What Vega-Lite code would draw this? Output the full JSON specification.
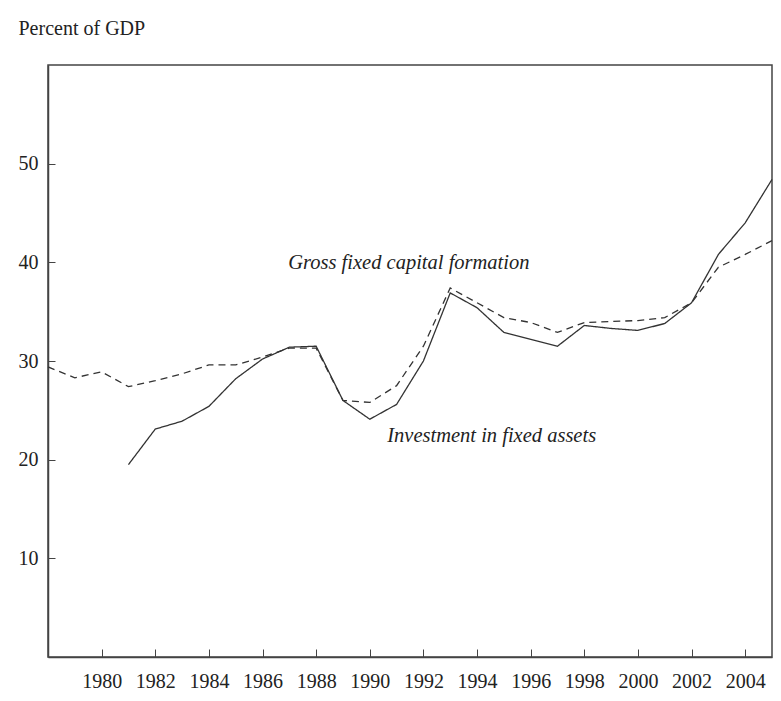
{
  "$schema": "https://vega.github.io/schema/vega-lite/v6.json",
  "width": 724,
  "height": 592,
  "autosize": "none",
  "padding": {"left": 48, "top": 65, "right": 9, "bottom": 44},
  "background": "white",
  "config": {
    "font": "Liberation Serif",
    "view": {"stroke": "#444", "strokeWidth": 1.5},
    "axis": {"grid": false, "domainColor": "#444", "domainWidth": 1.5, "tickColor": "#444", "tickWidth": 1, "labelColor": "#222", "labelFont": "Liberation Serif", "labelFontSize": 20}
  },
  "datasets": {
    "series": [
      {"year": 1978, "value": 29.4, "series": "Gross fixed capital formation"},
      {"year": 1979, "value": 28.3, "series": "Gross fixed capital formation"},
      {"year": 1980, "value": 28.9, "series": "Gross fixed capital formation"},
      {"year": 1981, "value": 27.4, "series": "Gross fixed capital formation"},
      {"year": 1982, "value": 28.0, "series": "Gross fixed capital formation"},
      {"year": 1983, "value": 28.7, "series": "Gross fixed capital formation"},
      {"year": 1984, "value": 29.6, "series": "Gross fixed capital formation"},
      {"year": 1985, "value": 29.6, "series": "Gross fixed capital formation"},
      {"year": 1986, "value": 30.4, "series": "Gross fixed capital formation"},
      {"year": 1987, "value": 31.3, "series": "Gross fixed capital formation"},
      {"year": 1988, "value": 31.3, "series": "Gross fixed capital formation"},
      {"year": 1989, "value": 26.0, "series": "Gross fixed capital formation"},
      {"year": 1990, "value": 25.8, "series": "Gross fixed capital formation"},
      {"year": 1991, "value": 27.5, "series": "Gross fixed capital formation"},
      {"year": 1992, "value": 31.5, "series": "Gross fixed capital formation"},
      {"year": 1993, "value": 37.4, "series": "Gross fixed capital formation"},
      {"year": 1994, "value": 35.9, "series": "Gross fixed capital formation"},
      {"year": 1995, "value": 34.4, "series": "Gross fixed capital formation"},
      {"year": 1996, "value": 33.9, "series": "Gross fixed capital formation"},
      {"year": 1997, "value": 32.9, "series": "Gross fixed capital formation"},
      {"year": 1998, "value": 33.9, "series": "Gross fixed capital formation"},
      {"year": 1999, "value": 34.0, "series": "Gross fixed capital formation"},
      {"year": 2000, "value": 34.1, "series": "Gross fixed capital formation"},
      {"year": 2001, "value": 34.4, "series": "Gross fixed capital formation"},
      {"year": 2002, "value": 35.9, "series": "Gross fixed capital formation"},
      {"year": 2003, "value": 39.5, "series": "Gross fixed capital formation"},
      {"year": 2004, "value": 40.8, "series": "Gross fixed capital formation"},
      {"year": 2005, "value": 42.2, "series": "Gross fixed capital formation"},
      {"year": 1981, "value": 19.5, "series": "Investment in fixed assets"},
      {"year": 1982, "value": 23.1, "series": "Investment in fixed assets"},
      {"year": 1983, "value": 23.9, "series": "Investment in fixed assets"},
      {"year": 1984, "value": 25.4, "series": "Investment in fixed assets"},
      {"year": 1985, "value": 28.2, "series": "Investment in fixed assets"},
      {"year": 1986, "value": 30.2, "series": "Investment in fixed assets"},
      {"year": 1987, "value": 31.4, "series": "Investment in fixed assets"},
      {"year": 1988, "value": 31.5, "series": "Investment in fixed assets"},
      {"year": 1989, "value": 26.0, "series": "Investment in fixed assets"},
      {"year": 1990, "value": 24.1, "series": "Investment in fixed assets"},
      {"year": 1991, "value": 25.6, "series": "Investment in fixed assets"},
      {"year": 1992, "value": 30.0, "series": "Investment in fixed assets"},
      {"year": 1993, "value": 36.9, "series": "Investment in fixed assets"},
      {"year": 1994, "value": 35.4, "series": "Investment in fixed assets"},
      {"year": 1995, "value": 32.9, "series": "Investment in fixed assets"},
      {"year": 1996, "value": 32.2, "series": "Investment in fixed assets"},
      {"year": 1997, "value": 31.5, "series": "Investment in fixed assets"},
      {"year": 1998, "value": 33.6, "series": "Investment in fixed assets"},
      {"year": 1999, "value": 33.3, "series": "Investment in fixed assets"},
      {"year": 2000, "value": 33.1, "series": "Investment in fixed assets"},
      {"year": 2001, "value": 33.8, "series": "Investment in fixed assets"},
      {"year": 2002, "value": 35.9, "series": "Investment in fixed assets"},
      {"year": 2003, "value": 40.8, "series": "Investment in fixed assets"},
      {"year": 2004, "value": 44.0, "series": "Investment in fixed assets"},
      {"year": 2005, "value": 48.4, "series": "Investment in fixed assets"}
    ],
    "labels": [
      {"year": 1986.96, "value": 39.9, "label": "Gross fixed capital formation"},
      {"year": 1990.65, "value": 22.4, "label": "Investment in fixed assets"}
    ]
  },
  "layer": [
    {
      "data": {"name": "series"},
      "mark": {"type": "line", "strokeWidth": 1.3, "color": "#333"},
      "encoding": {
        "x": {
          "field": "year", "type": "quantitative",
          "scale": {"domain": [1978, 2005], "nice": false, "zero": false},
          "axis": {"title": null, "values": [1980, 1982, 1984, 1986, 1988, 1990, 1992, 1994, 1996, 1998, 2000, 2002, 2004], "format": "d", "tickSize": -8, "labelPadding": 22}
        },
        "y": {
          "field": "value", "type": "quantitative",
          "scale": {"domain": [0, 60], "nice": false},
          "axis": {"title": "Percent of GDP", "values": [10, 20, 30, 40, 50], "tickSize": -7, "labelPadding": 17, "titleAngle": 0, "titleAlign": "left", "titleBaseline": "alphabetic", "titleX": -30, "titleY": -31, "titleFont": "Liberation Serif", "titleFontSize": 20, "titleFontWeight": "normal", "titleColor": "#222"}
        },
        "strokeDash": {
          "field": "series", "type": "nominal",
          "scale": {"domain": ["Gross fixed capital formation", "Investment in fixed assets"], "range": [[7, 5], [1, 0]]},
          "legend": null
        }
      }
    },
    {
      "data": {"name": "labels"},
      "mark": {"type": "text", "align": "left", "baseline": "middle", "font": "Liberation Serif", "fontStyle": "italic", "fontSize": 20.5, "color": "#222"},
      "encoding": {
        "x": {"field": "year", "type": "quantitative"},
        "y": {"field": "value", "type": "quantitative"},
        "text": {"field": "label"}
      }
    }
  ]
}
